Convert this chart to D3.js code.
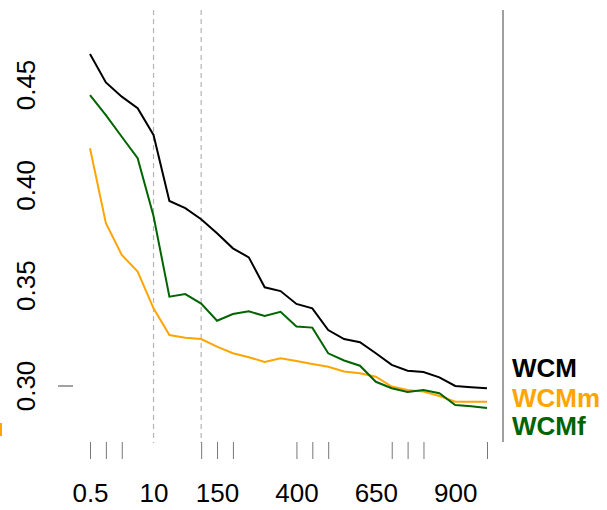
<!DOCTYPE html>
<html>
<head>
<meta charset="utf-8">
<script src="https://cdn.jsdelivr.net/npm/d3@7"></script>
<style>
  body { margin: 0; background: #fff; }
  text { font-family: "Liberation Sans", Arial, sans-serif; }
</style>
</head>
<body>
<div id="chart"></div>
<script>
// x categories (one per point)
const xCats = [0.5, 1, 2, 5, 10, 25, 50, 100, 150, 200, 250, 300, 350, 400,
               450, 500, 550, 600, 650, 700, 750, 800, 850, 900, 950, 1000];
const xLabels = [0.5, 10, 150, 400, 650, 900];
const xTickMarks = [0.5, 1, 2, 100, 150, 200, 400, 450, 500, 700, 750, 800, 1000];
const xDashed = [10, 100];
const yLabels = [0.30, 0.35, 0.40, 0.45];

const wcm  = [0.4654, 0.4513, 0.4442, 0.4384, 0.4251, 0.3922, 0.3886, 0.3831, 0.3761, 0.3686,
              0.3641, 0.3492, 0.3473, 0.3409, 0.3387, 0.3279, 0.3234, 0.3218, 0.3163, 0.3105,
              0.3076, 0.3070, 0.3043, 0.3000, 0.2994, 0.2989];
const wcmm = [0.4185, 0.3811, 0.3653, 0.3570, 0.3387, 0.3254, 0.3241, 0.3234, 0.3196, 0.3163,
              0.3143, 0.3120, 0.3138, 0.3125, 0.3110, 0.3096, 0.3072, 0.3063, 0.3046, 0.2997,
              0.2980, 0.2972, 0.2950, 0.2922, 0.2922, 0.2922];
const wcmf = [0.4450, 0.4350, 0.4242, 0.4135, 0.3847, 0.3445, 0.3458, 0.3411, 0.3325, 0.3359,
              0.3372, 0.3349, 0.3370, 0.3296, 0.3291, 0.3163, 0.3127, 0.3101, 0.3021, 0.2989,
              0.2970, 0.2980, 0.2964, 0.2905, 0.2899, 0.2890];
const seriesNames = ["WCM", "WCMm", "WCMf"];
const seriesColors = ["#000000", "#FFA500", "#006400"];

const width = 607, height = 510;

const svg = d3.select("#chart").append("svg")
  .attr("width", width).attr("height", height);

// scales
const x = d3.scalePoint().domain(xCats).range([90, 487]);
const y = d3.scaleLinear().domain([0.30, 0.45]).range([386, 85]);

// dashed reference lines
svg.selectAll(".dash").data(xDashed).enter().append("line")
  .attr("x1", d => x(d)).attr("x2", d => x(d))
  .attr("y1", 10).attr("y2", 443)
  .attr("stroke", "#b4b4b4").attr("stroke-width", 1.2)
  .attr("stroke-dasharray", "5,4");

// right separator line
svg.append("line")
  .attr("x1", 503).attr("x2", 503).attr("y1", 10).attr("y2", 442)
  .attr("stroke", "#808080").attr("stroke-width", 1.5);

// x tick marks
const tickAxis = svg.append("g")
  .attr("transform", "translate(0,442)")
  .call(d3.axisBottom(x).tickValues(xTickMarks).tickSize(17).tickFormat(""));
tickAxis.select(".domain").remove();
tickAxis.selectAll("line").attr("stroke", "#777").attr("stroke-width", 1);

// x labels
const labelAxis = svg.append("g")
  .attr("transform", "translate(0,484)")
  .call(d3.axisBottom(x).tickValues(xLabels).tickSize(0).tickPadding(0));
labelAxis.select(".domain").remove();
labelAxis.selectAll("text")
  .attr("dy", "0.71em")
  .style("font-size", "26px")
  .attr("fill", "#000");

// y labels (rotated)
svg.selectAll(".ylab").data(yLabels).enter().append("text")
  .attr("transform", d => "translate(35," + y(d) + ") rotate(-90)")
  .attr("text-anchor", "middle")
  .style("font-size", "26px")
  .text(d => d3.format(".2f")(d));

// lone tick at 0.30
svg.append("line")
  .attr("x1", 58).attr("x2", 73).attr("y1", y(0.30)).attr("y2", y(0.30))
  .attr("stroke", "#444").attr("stroke-width", 1);

// small orange fragment at the left edge
svg.append("rect")
  .attr("x", 0).attr("y", 423).attr("width", 2).attr("height", 13)
  .attr("fill", seriesColors[1]);

// lines
const line = d3.line()
  .x((d, i) => x(xCats[i]))
  .y(d => y(d));

[wcm, wcmm, wcmf].forEach((vals, k) => {
  svg.append("path")
    .attr("d", line(vals))
    .attr("fill", "none")
    .attr("stroke", seriesColors[k])
    .attr("stroke-width", 2);
});

// legend
svg.selectAll(".leg").data(seriesNames).enter().append("text")
  .attr("x", 512)
  .attr("y", (d, i) => [377, 407, 435][i])
  .style("font-size", "26px")
  .style("font-weight", "bold")
  .attr("fill", (d, i) => seriesColors[i])
  .text(d => d);
</script>
</body>
</html>
